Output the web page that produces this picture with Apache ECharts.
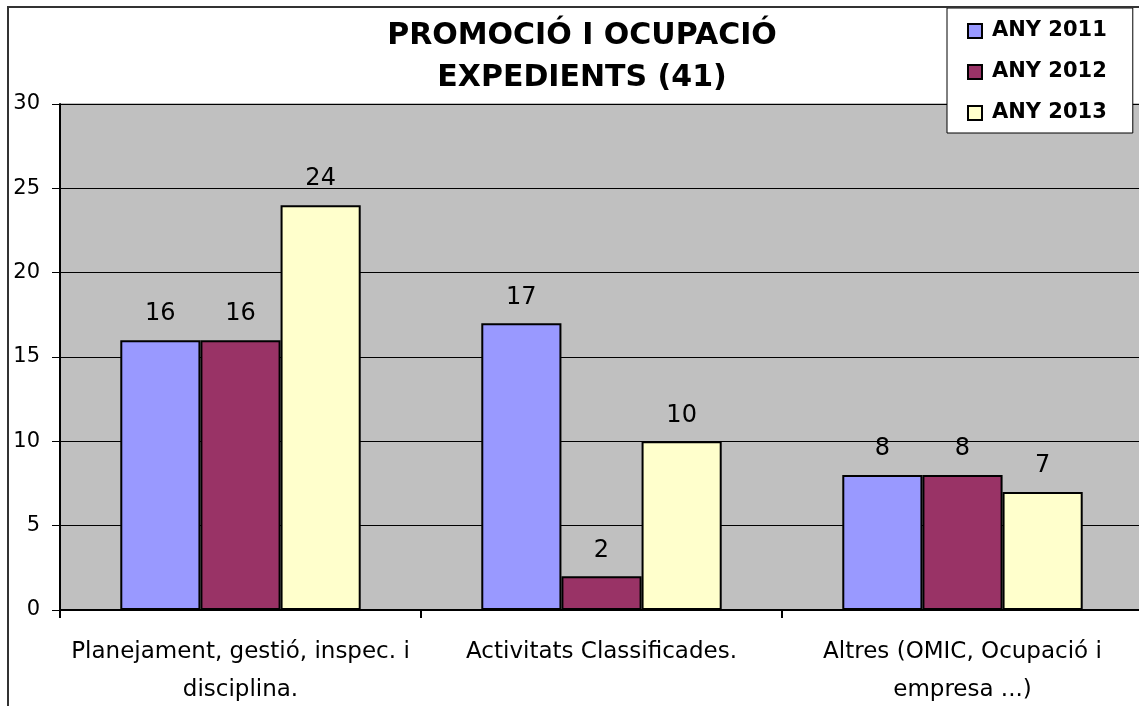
<!DOCTYPE html>
<html>
<head>
<meta charset="utf-8">
<script src="https://cdn.jsdelivr.net/npm/echarts@6/dist/echarts.min.js"></script>
<style>
  html, body { margin: 0; padding: 0; background: #fff; }
  #chart { width: 1139px; height: 706px; }
</style>
</head>
<body>
<div id="chart"></div>
<script>
// dades llegides del gràfic
const categories = [
  'Planejament, gestió, inspec. i\ndisciplina.',
  'Activitats Classificades.',
  'Altres (OMIC, Ocupació i\nempresa ...)'
];
const any2011 = [16, 17, 8];
const any2012 = [16, 2, 8];
const any2013 = [24, 10, 7];
const yTicks = [0, 5, 10, 15, 20, 25, 30];

const font = '"DejaVu Sans", Verdana, sans-serif';

function barSeries(name, data, color) {
  return {
    name: name,
    type: 'bar',
    data: data,
    barGap: '0%',
    barCategoryGap: '33.4%',
    itemStyle: { color: color, borderColor: '#000', borderWidth: 2 },
    label: {
      show: true,
      position: 'top',
      distance: 14,
      color: '#000',
      fontFamily: font,
      fontSize: 24
    }
  };
}

const chart = echarts.init(document.getElementById('chart'), null, { renderer: 'canvas' });

const option = {
  animation: false,
  backgroundColor: '#fff',
  title: {
    text: 'PROMOCIÓ I OCUPACIÓ\nEXPEDIENTS (41)',
    left: 582,
    top: 15,
    padding: 0,
    textAlign: 'center',
    textStyle: {
      fontFamily: font,
      fontSize: 30,
      fontWeight: 'bold',
      lineHeight: 42,
      color: '#000'
    }
  },
  legend: {
    orient: 'vertical',
    left: 947,
    top: 8,
    padding: [10, 26, 7, 20],
    itemGap: 15,
    itemWidth: 14,
    itemHeight: 14,
    icon: 'rect',
    backgroundColor: '#fff',
    borderColor: '#000',
    borderWidth: 1,
    borderRadius: 0,
    textStyle: {
      fontFamily: font,
      fontSize: 21,
      fontWeight: 'bold',
      lineHeight: 26,
      color: '#000',
      padding: [0, 0, 0, 5]
    },
    data: ['ANY 2011', 'ANY 2012', 'ANY 2013']
  },
  grid: {
    left: 60,
    top: 104,
    width: 1083,
    height: 506,
    outerBoundsMode: 'none',
    containLabel: false,
    show: true,
    backgroundColor: '#c0c0c0',
    borderColor: '#808080',
    borderWidth: 1
  },
  xAxis: {
    type: 'category',
    data: categories,
    axisLine: { lineStyle: { color: '#000', width: 2 } },
    axisTick: { show: true, length: 8, interval: 0, lineStyle: { color: '#000', width: 2 } },
    axisLabel: {
      interval: 0,
      margin: 23,
      color: '#000',
      fontFamily: font,
      fontSize: 23,
      lineHeight: 38,
      align: 'center'
    }
  },
  yAxis: {
    type: 'value',
    min: yTicks[0],
    max: yTicks[yTicks.length - 1],
    interval: 5,
    axisLine: { show: true, lineStyle: { color: '#000', width: 2 } },
    axisTick: { show: true, length: 8, lineStyle: { color: '#000' } },
    splitLine: { show: true, lineStyle: { color: '#000', width: 1 } },
    axisLabel: {
      margin: 20,
      padding: [6, 0, 0, 0],
      color: '#000',
      fontFamily: font,
      fontSize: 21
    }
  },
  series: [
    barSeries('ANY 2011', any2011, '#9999ff'),
    barSeries('ANY 2012', any2012, '#993366'),
    barSeries('ANY 2013', any2013, '#ffffcc')
  ],
  graphic: [
    {
      type: 'rect',
      shape: { x: 8, y: 7, width: 1300, height: 900 },
      style: { fill: null, stroke: '#333', lineWidth: 2 },
      silent: true,
      z: 100
    }
  ]
};

chart.setOption(option);
</script>
</body>
</html>
